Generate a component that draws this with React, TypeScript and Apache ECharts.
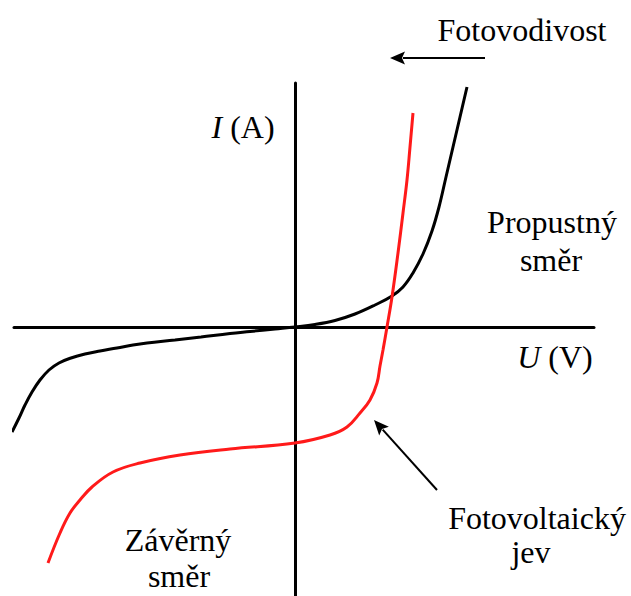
import React, { useEffect, useRef } from "react";
import * as echarts from "echarts";

// U (V) values and I (A) values (arbitrary units)
const darkU = [-28.3, -27.6, -27.0, -26.3, -25.5, -24.6, -23.6, -22.4, -21.0, -19.5, -17.8, -16.2, -14.8, -12.0, -9.4, -6.5, -4.5, -2.0, 0, 2.0, 4.0, 6.0, 8.0, 9.7, 10.8, 11.8, 12.8, 13.7, 14.4, 15.1, 15.8, 16.5, 17.2];
const darkI = [-10.5, -9.1, -7.8, -6.5, -5.3, -4.3, -3.6, -3.1, -2.7, -2.4, -2.1, -1.8, -1.6, -1.3, -1.0, -0.65, -0.45, -0.2, 0, 0.25, 0.65, 1.3, 2.2, 3.1, 4.0, 5.4, 7.3, 9.6, 12.0, 15.0, 18.0, 21.0, 24.0];

const lightU = [-24.7, -23.5, -22.5, -21.5, -20.3, -18.2, -15.5, -11.5, -6.5, 0, 3.5, 5.2, 6.5, 7.5, 8.2, 8.5, 8.8, 9.2, 9.7, 10.3, 10.8, 11.2, 11.5, 11.8];
const lightI = [-23.6, -20.6, -18.6, -17.3, -16.0, -14.5, -13.6, -12.8, -12.2, -11.6, -10.8, -10.0, -8.6, -7.3, -5.6, -3.9, -2.3, 0, 3.0, 7.4, 11.4, 14.7, 18.0, 21.4];

const uRange = [-28.1, 29.9];
const iRange = [-26.9, 24.4];

// arrows: [tail, head] in (U, I)
const arrowFotovodivost = [[19.0, 26.9], [9.5, 26.9]];
const arrowFotovoltaicky = [[14.2, -16.3], [7.9, -9.3]];

const FONT = "'Liberation Serif', 'Times New Roman', serif";
const FS = 32;

export default function App() {
  const ref = useRef<HTMLDivElement>(null);
  useEffect(() => {
    document.body.style.margin = "0";
    const chart = echarts.init(ref.current!, undefined, { renderer: "svg" });
    const zip = (a: number[], b: number[]) => a.map((v, k) => [v, b[k]]);
    const txt = (text: string, x: number, y: number, extra: any = {}) => ({
      type: "text",
      x,
      y,
      style: {
        text,
        fill: "#000",
        fontFamily: FONT,
        fontSize: FS,
        textAlign: "center",
        textVerticalAlign: "middle",
        ...extra,
      },
    });
    const axisCommon = {
      type: "value",
      axisLine: { show: true, onZero: true, lineStyle: { color: "#000", width: 3 } },
      axisTick: { show: false },
      axisLabel: { show: false },
      splitLine: { show: false },
    };
    chart.setOption({
      animation: false,
      grid: { left: 14, right: 37, top: 83, bottom: 0 },
      xAxis: { ...axisCommon, min: uRange[0], max: uRange[1] },
      yAxis: { ...axisCommon, min: iRange[0], max: iRange[1] },
      series: [
        {
          type: "line",
          data: zip(darkU, darkI),
          smooth: 0.4,
          symbol: "none",
          clip: false,
          lineStyle: { color: "#000", width: 3 },
        },
        {
          type: "line",
          data: zip(lightU, lightI),
          smooth: 0.4,
          symbol: "none",
          clip: false,
          lineStyle: { color: "#ff1a1a", width: 3 },
        },
      ],
    });

    const arrowEls: any[] = [];
    [arrowFotovodivost, arrowFotovoltaicky].forEach((arr) => {
      const p0 = chart.convertToPixel({ gridIndex: 0 }, arr[0]) as number[];
      const p1 = chart.convertToPixel({ gridIndex: 0 }, arr[1]) as number[];
      const dx = p1[0] - p0[0];
      const dy = p1[1] - p0[1];
      const len = Math.hypot(dx, dy);
      const ux = dx / len;
      const uy = dy / len;
      const headLen = 15;
      const halfW = 6.5;
      const bx = p1[0] - ux * headLen;
      const by = p1[1] - uy * headLen;
      arrowEls.push({
        type: "line",
        shape: { x1: p0[0], y1: p0[1], x2: bx + ux * 2, y2: by + uy * 2 },
        style: { stroke: "#000", lineWidth: 2 },
      });
      arrowEls.push({
        type: "polygon",
        shape: {
          points: [
            [p1[0], p1[1]],
            [bx - uy * halfW, by + ux * halfW],
            [bx + ux * 3, by + uy * 3],
            [bx + uy * halfW, by - ux * halfW],
          ],
        },
        style: { fill: "#000" },
      });
    });

    const italic = { rich: { i: { fontStyle: "italic", fontFamily: FONT, fontSize: FS } } };
    chart.setOption({
      graphic: [
        txt("Fotovodivost", 522, 30),
        txt("{i|I} (A)", 243, 127, italic),
        txt("Propustný", 552, 222),
        txt("směr", 551, 260),
        txt("{i|U} (V)", 555, 357, italic),
        txt("Fotovoltaický", 537, 518),
        txt("jev", 531, 552),
        txt("Závěrný", 178, 540),
        txt("směr", 179, 576),
        ...arrowEls,
      ],
    });
    return () => chart.dispose();
  }, []);
  return <div ref={ref} style={{ width: 631, height: 596 }} />;
}
